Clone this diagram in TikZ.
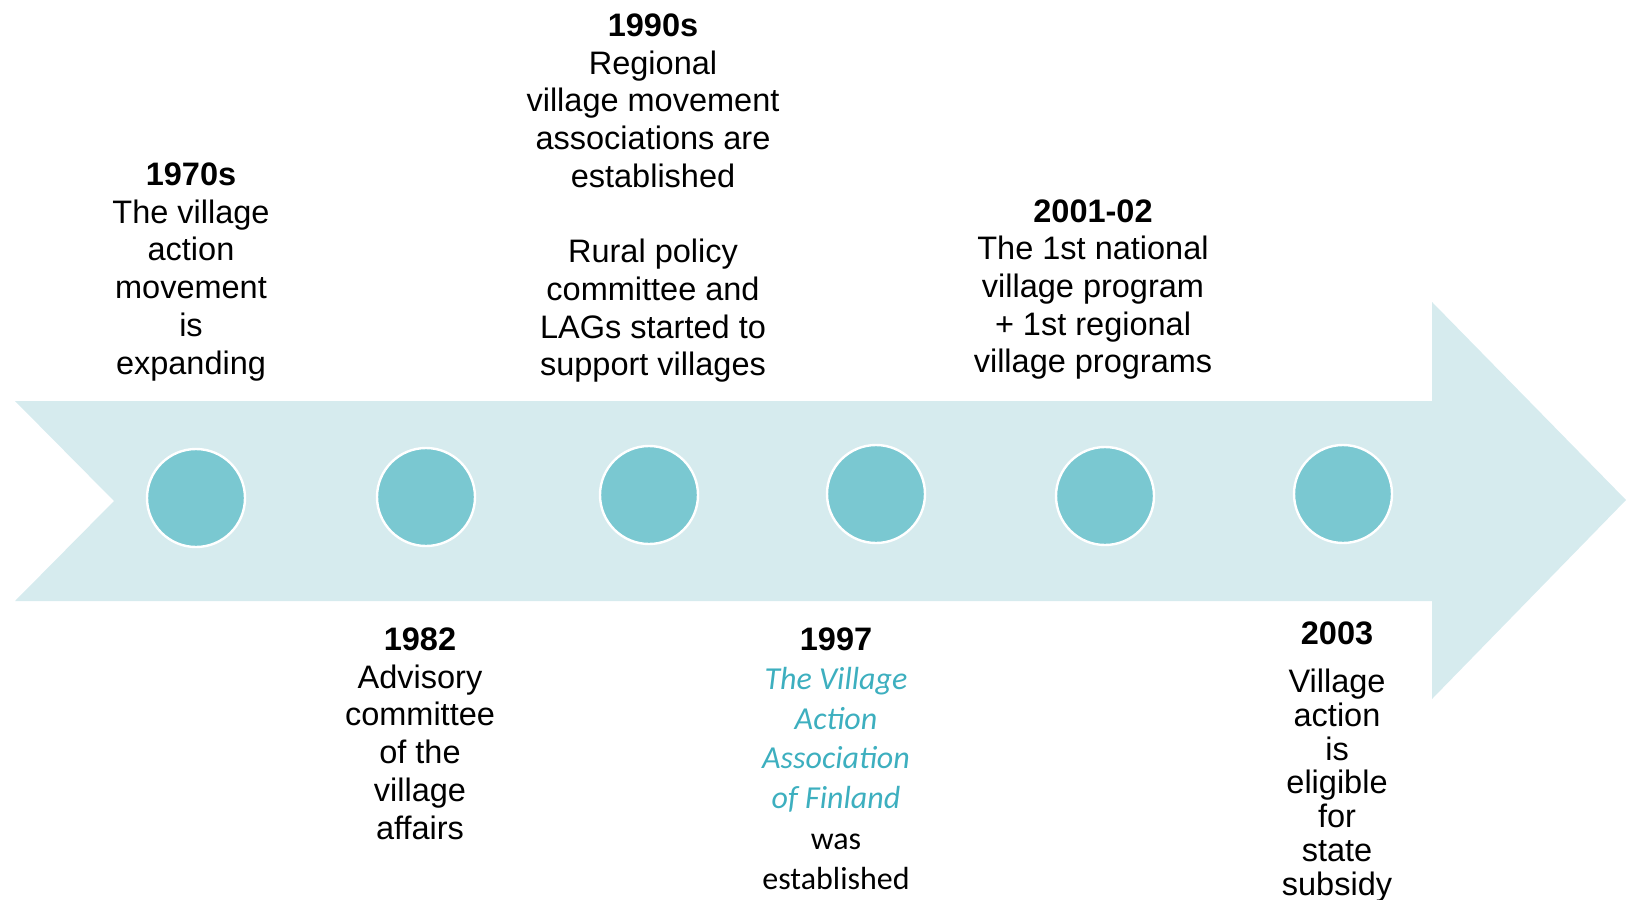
\documentclass[tikz,border=0pt]{standalone}
\usepackage{fontspec}
\setmainfont{Liberation Sans}
\newfontfamily\carlito{Carlito}
\definecolor{arrowfill}{HTML}{D6EBEE}
\definecolor{dotfill}{HTML}{7AC8D1}
\definecolor{assoc}{HTML}{3DAFBF}

\begin{document}
\begin{tikzpicture}[
        x=0.5pt, y=-0.5pt,
        dot/.style={circle, fill=dotfill, draw=white, line width=1.2pt, minimum size=49pt, inner sep=0pt},
        event/.style={align=center, anchor=base, inner sep=0pt, font=\fontsize{16.25}{18.85}\selectfont},
        yearlabel/.style={event, font=\fontsize{16.25}{18.85}\selectfont\bfseries},
        calibritext/.style={align=center, anchor=base, inner sep=0pt, font=\carlito\fontsize{16}{19.85}\selectfont}
        ]
            %\draw[lightgray] (0, 0) grid[step=100] (1626, 899);
            \useasboundingbox (0, 0) rectangle (1626, 899);

            % the big arrow
            \fill[arrowfill] (15, 401) -- (1432, 401) -- (1432, 302) -- (1626, 500)
                -- (1432, 699) -- (1432, 601) -- (15, 601) -- (114, 501) -- cycle;

            % dots on the time line
            \node[dot] (d1970) at (196, 498) {};
            \node[dot] (d1982) at (426, 497) {};
            \node[dot] (d1990) at (649, 495) {};
            \node[dot] (d1997) at (876, 494) {};
            \node[dot] (d2001) at (1105, 496) {};
            \node[dot] (d2003) at (1343, 494) {};

            % above the arrow (base = last line)
            \node[event] (t1970) at (191, 374)
                {\textbf{1970s}\\The village\\action\\movement\\is\\expanding};
            \node[event] (t1990) at (653, 375.8)
                {\textbf{1990s}\\Regional\\village movement\\associations are\\established\\[18.85pt]
                 Rural policy\\committee and\\LAGs started to\\support villages};
            \node[event] (t2001) at (1093, 372.8)
                {\textbf{2001-02}\\The 1st national\\village program\\+ 1st regional\\village programs};

            % below the arrow
            \node[event] (t1982) at (420, 839)
                {\textbf{1982}\\Advisory\\committee\\of the\\village\\affairs};

            \node[yearlabel] (y1997) at (836, 650.5) {1997};
            \node[calibritext, text=assoc, font=\carlito\itshape\fontsize{16}{19.85}\selectfont] (t1997) at (836, 808.6)
                {The Village\\Action\\Association\\of Finland};
            \node[calibritext] (e1997) at (836, 889.2) {was\\established};

            \node[yearlabel] (y2003) at (1337, 644) {2003};
            \node[event, font=\fontsize{16.25}{16.9}\selectfont] (t2003) at (1337, 895.3)
                {Village\\action\\is\\eligible\\for\\state\\subsidy};
        \end{tikzpicture}
\end{document}
